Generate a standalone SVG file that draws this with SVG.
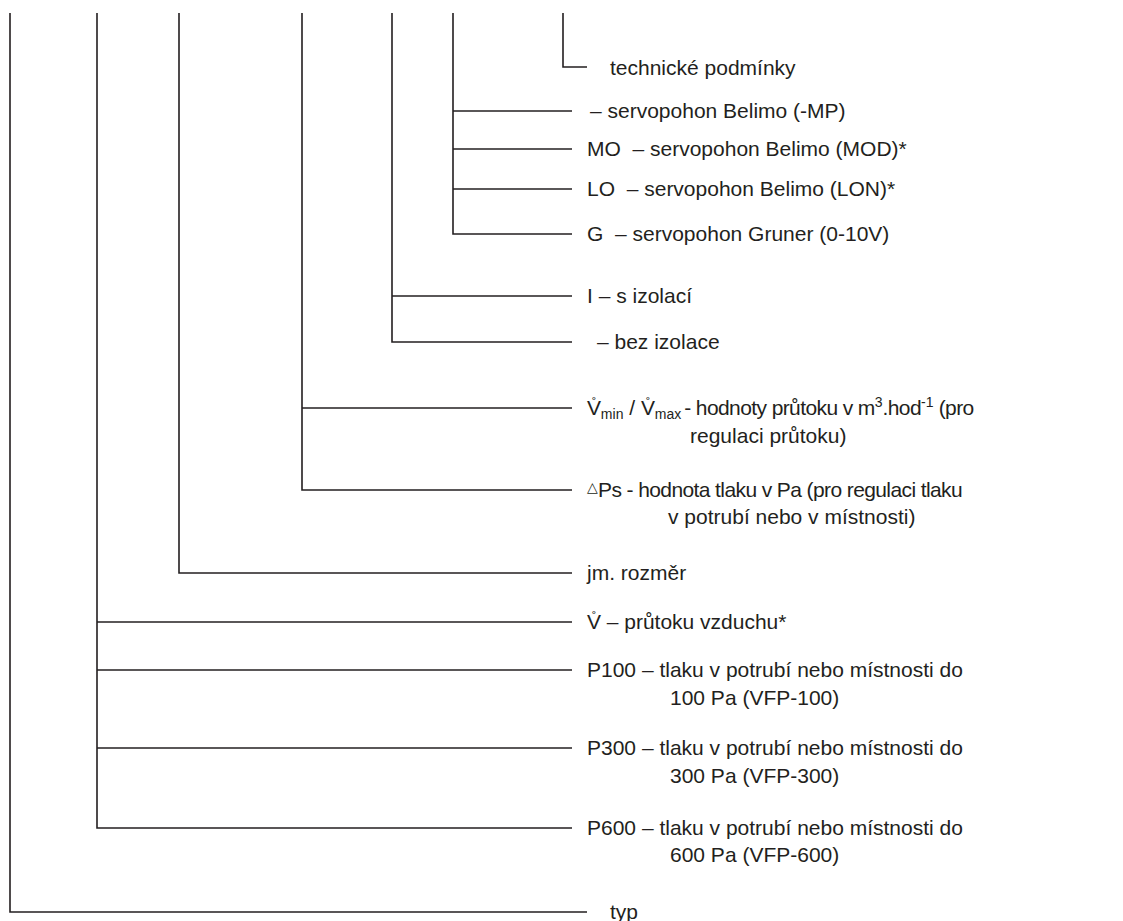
<svg xmlns="http://www.w3.org/2000/svg" width="1123" height="921" viewBox="0 0 1123 921">
<style>
.ln{stroke:#231f20;stroke-width:1.6;fill:none;stroke-linecap:butt}
.t{font-family:"Liberation Sans",Arial,sans-serif;font-size:21px;fill:#231f20}
.s{font-size:14px;letter-spacing:0}
.r{font-size:13px;letter-spacing:0}
.k{letter-spacing:-0.6px}
</style>
<rect width="1123" height="921" fill="#fff"/>
<g id="connectors">
<polyline class="ln" points="10,13 10,912 587,912"/>
<polyline class="ln" points="97,13 97,828 572,828"/>
<line class="ln" x1="97" y1="622" x2="572" y2="622"/>
<line class="ln" x1="97" y1="670" x2="572" y2="670"/>
<line class="ln" x1="97" y1="748" x2="572" y2="748"/>
<polyline class="ln" points="179,13 179,573 572,573"/>
<polyline class="ln" points="302,13 302,490 572,490"/>
<line class="ln" x1="302" y1="408" x2="572" y2="408"/>
<polyline class="ln" points="392,13 392,342 572,342"/>
<line class="ln" x1="392" y1="296" x2="572" y2="296"/>
<polyline class="ln" points="453,13 453,234 572,234"/>
<line class="ln" x1="453" y1="111" x2="572" y2="111"/>
<line class="ln" x1="453" y1="149" x2="572" y2="149"/>
<line class="ln" x1="453" y1="189" x2="572" y2="189"/>
<polyline class="ln" points="563,13 563,67 587,67"/>
</g>
<g id="n-tp"><text class="t" x="610" y="75">technické podmínky</text></g>
<g id="n-mp"><text class="t" x="590" y="118">– servopohon Belimo (-MP)</text></g>
<g id="n-mo"><text class="t" x="587" y="156" xml:space="preserve">MO  – servopohon Belimo (MOD)*</text></g>
<g id="n-lo"><text class="t" x="587" y="196" xml:space="preserve">LO  – servopohon Belimo (LON)*</text></g>
<g id="n-g"><text class="t" x="587" y="241" xml:space="preserve">G  – servopohon Gruner (0-10V)</text></g>
<g id="n-i"><text class="t" x="587" y="303">I – s izolací</text></g>
<g id="n-bez"><text class="t" x="597" y="349">– bez izolace</text></g>
<g id="n-vmin">
<text class="t" x="587" y="415">V<tspan class="r" dx="-9" dy="-8">˚</tspan><tspan class="s" dx="4.5" dy="12">min</tspan><tspan dy="-4"> / V</tspan><tspan class="r" dx="-9" dy="-8">˚</tspan><tspan class="s" dx="4.5" dy="12">max</tspan><tspan class="k" dx="3" dy="-4">- hodnoty průtoku v m</tspan><tspan class="s" dy="-8">3</tspan><tspan class="k" dy="8">.hod</tspan><tspan class="s" dy="-8">-1</tspan><tspan class="k" dy="8"> (pro</tspan></text>
<text class="t" x="690" y="443">regulaci průtoku)</text>
</g>
<g id="n-dps">
<text class="t k" x="587" y="497"><tspan class="s" dy="-5">△</tspan><tspan dy="5">Ps - hodnota tlaku v Pa (pro regulaci tlaku</tspan></text>
<text class="t" x="668" y="524">v potrubí nebo v místnosti)</text>
</g>
<g id="n-jm"><text class="t" x="587" y="580">jm. rozměr</text></g>
<g id="n-v">
<text class="t" x="587" y="629">V<tspan class="r" dx="-9" dy="-8">˚</tspan><tspan dx="4.5" dy="8"> – průtoku vzduchu*</tspan></text>
</g>
<g id="n-p100">
<text class="t" x="587" y="677">P100 – tlaku v potrubí nebo místnosti do</text>
<text class="t" x="670" y="705">100 Pa (VFP-100)</text>
</g>
<g id="n-p300">
<text class="t" x="587" y="755">P300 – tlaku v potrubí nebo místnosti do</text>
<text class="t" x="670" y="783">300 Pa (VFP-300)</text>
</g>
<g id="n-p600">
<text class="t" x="587" y="835">P600 – tlaku v potrubí nebo místnosti do</text>
<text class="t" x="670" y="862">600 Pa (VFP-600)</text>
</g>
<g id="n-typ"><text class="t" x="610" y="919">typ</text></g>
</svg>
